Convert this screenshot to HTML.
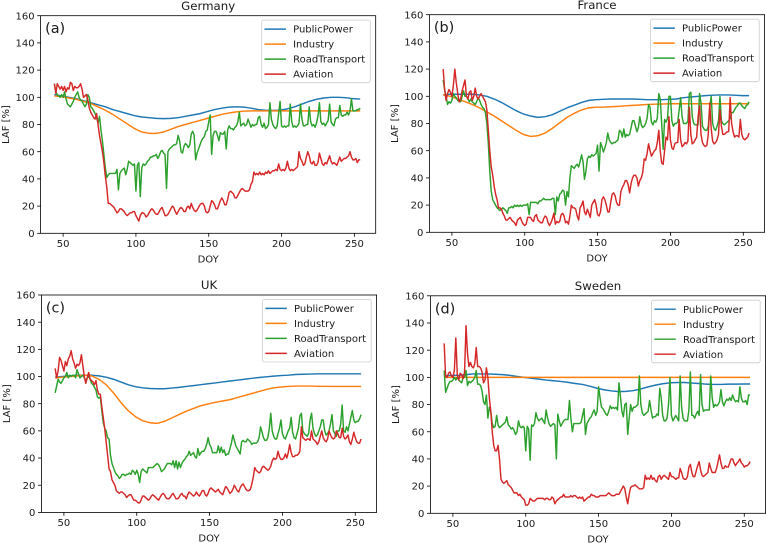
<!DOCTYPE html>
<html lang="en">
<head>
<meta charset="utf-8">
<title>LAF by sector</title>
<style>
html,body{margin:0;padding:0;background:#fff;}
body{width:766px;height:543px;overflow:hidden;}
svg{display:block;}
text{font-family:"DejaVu Sans","Liberation Sans",sans-serif;fill:#1a1a1a;}
</style>
</head>
<body>
<svg id="figure" xmlns="http://www.w3.org/2000/svg" width="766" height="543" viewBox="0 0 766 543"></svg>
<script>
const seriesNames = ["PublicPower", "Industry", "RoadTransport", "Aviation"];
const xTickLabels = [50, 100, 150, 200, 250];
const yTickLabels = [0, 20, 40, 60, 80, 100, 120, 140, 160];
const firstDailyDoy = 44;
const smoothDoy = [
44,49,54,59,64,69,74,79,84,89,
94,99,104,109,114,119,124,129,134,139,
144,149,154,159,164,169,174,179,184,189,
194,199,204,209,214,219,224,229,234,239,
244,249,254];

const germanyPublicPower = [
102,101,100,99,97.5,96,94.5,93,91,89.5,
88,86.5,85.5,85,84.5,84.3,84.5,85,86,87,
88,89.5,91,92,92.8,93,92.8,92,91,90.5,
90.3,90.5,91.5,93,95,97,98.5,99.5,100,100,
99.7,99,98.7];
const germanyIndustry = [
101,100.5,99.5,98.5,97,95.5,93,90.5,87.5,84,
80.5,77,74.5,73.5,73.5,74.5,76.5,78.5,80,81.5,
83,84.5,86,87.5,88.5,89.3,89.8,90,90,90,
90,90,90,90,90,90,90,90,90,90,
90,90,90];
const germanyRoad = [
110,104,102,101,100,102,
100,104,99,95,94,93,95,97,100,102,
104,100,98,97,95,93,95,102,100,93,
92,90,88,85,81,86,76,68,58,48,
41,43,44,44,44,44,44,47,32,44,
46,47,48,43,47,53,52,51,50,51,
31,50,52,27,48,51,50,51,53,54,
56,56,57,57,58,55,57,60,61,59,
58,33,60,62,63,64,65,65,66,72,
68,60,59,64,66,65,63,65,73,75,
72,54,59,62,65,68,70,71,75,76,
82,87,58,72,75,75,72,68,74,73,
73,75,62,76,79,77,77,76,78,79,
82,89,79,80,81,79,80,84,81,78,
80,79,80,80,85,86,80,78,81,77,
78,80,96,84,80,78,77,79,88,97,
79,78,79,78,79,79,95,82,78,79,
78,79,81,95,84,79,79,80,80,93,
82,79,80,78,81,86,96,82,80,81,
79,81,83,95,82,80,79,84,85,85,
94,87,86,87,87,89,87,90,99,90,
90,90,91,91,92];
const germanyAviation = [
110,103,110,108,106,108,
105,108,104,107,106,111,110,105,108,107,
107,108,110,106,100,101,102,98,92,89,
87,85,84,88,80,72,66,60,52,42,
34,22,22,21,20,19,17,15,16,18,
18,17,16,14,13,14,15,15,16,16,
13,11,9,13,15,15,14,12,13,15,
17,18,17,15,14,14,16,18,19,16,
13,13,14,16,18,20,19,16,14,16,
18,19,18,16,16,19,20,18,22,19,
17,16,17,19,21,22,22,20,16,15,
16,20,24,23,21,18,18,21,24,26,
24,21,21,25,30,31,30,29,26,26,
28,30,32,33,32,31,31,31,32,36,
38,45,43,44,43,45,43,44,43,45,
44,46,44,45,46,46,47,46,51,47,
46,47,46,48,53,48,46,47,46,47,
48,49,60,55,53,50,51,56,60,57,
52,51,53,50,50,52,59,55,51,50,
52,51,54,57,53,51,52,51,50,53,
56,53,54,55,55,56,57,60,56,54,
54,55,52,54,54];

const francePublicPower = [
101,101.5,101.5,101.5,101.5,101,100,98,95.5,92.5,
89.5,87,85.5,84.5,85,86.5,89,91.5,93.5,95.5,
97,97.5,97.8,98,98,98,98,97.8,97.5,97.5,
97.5,97.8,98,99,99.5,100,100.5,100.8,101,101,
100.8,100.5,100.5];
const franceIndustry = [
101,100,98,96,94,91.5,88.5,85.5,82,78.5,
75,72,70.5,71,73,76.5,80.5,84.5,87.5,90,
91.5,92,92,92.3,92.6,93,93.3,93.6,94,94.2,
94.3,94.5,94.5,94.5,94.5,94.5,94.5,94.5,94.5,94.5,
94.5,94.5,94.5];
const franceRoad = [
112,105,100,94,96,95,
97,102,100,99,97,96,96,100,104,100,
100,98,96,98,96,95,94,96,99,97,
94,92,91,88,80,65,45,30,24,22,
20,18,17,16,17,18,17,16,14,18,
18,19,18,20,19,20,19,20,19,20,
20,20,21,13,22,22,22,22,22,21,
23,23,24,25,24,24,24,24,24,25,
25,13,26,23,28,29,31,30,20,30,
26,40,49,48,47,49,50,48,52,57,
52,39,45,54,56,55,57,56,57,58,
64,45,66,63,59,62,66,73,68,66,
65,66,66,67,68,75,74,70,76,70,
72,71,72,77,82,82,78,74,77,85,
79,77,78,80,84,94,92,81,79,82,
81,84,102,98,80,61,83,81,84,100,
100,82,78,80,80,81,90,99,85,80,
80,80,82,102,103,85,80,79,79,79,
102,95,78,76,75,75,78,92,100,80,
76,75,78,82,100,82,80,79,80,81,
82,84,88,88,90,92,93,95,95,93,
92,91,93,94,96];
const franceAviation = [
120,105,97,102,105,103,
100,108,120,110,102,96,98,104,108,112,
100,98,103,104,97,100,106,100,98,100,
102,100,98,96,90,75,60,48,42,34,
28,24,18,18,17,14,12,9,9,10,
11,9,8,7,5,9,10,11,8,6,
5,6,11,11,11,9,8,12,13,9,
8,7,7,10,12,11,7,5,7,10,
14,6,8,7,8,13,14,12,7,8,
6,12,20,18,18,17,12,9,18,20,
23,15,13,17,14,11,20,22,24,20,
13,12,15,24,26,24,20,15,15,22,
28,29,27,22,20,20,30,33,35,38,
38,35,29,36,40,42,42,40,34,38,
40,44,54,53,58,65,60,56,58,60,
61,66,75,60,51,50,60,70,68,85,
68,62,61,65,66,66,83,68,63,64,
66,65,67,92,72,65,66,68,70,85,
93,72,66,64,63,64,72,95,76,67,
65,66,68,72,90,78,72,72,73,74,
74,99,80,74,70,71,71,70,83,72,
69,68,69,70,73];

const ukPublicPower = [
99.5,100,100.5,101,101,101,100.5,99.5,98,96,
94,92.5,91.7,91.2,91,91,91.5,92,92.7,93.3,
94,94.7,95.3,96,96.7,97.3,98,98.7,99.3,99.8,
100.3,100.7,101,101.5,101.7,101.8,102,102,102,102,
102,102,102];
const ukIndustry = [
99,99.5,100,100.5,101,100.5,98,94,88,81,
75,70.5,67.5,66,65.5,67,69.5,72,74.5,76.5,
78.5,79.8,81,82,83,84.5,86,87.5,89,90.5,
91.7,92.3,92.7,93,93,93,92.8,92.8,92.7,92.7,
92.7,92.7,92.7];
const ukRoad = [
88,93,98,96,95,97,
99,100,103,99,101,100,101,101,99,105,
102,99,100,101,99,97,99,100,98,95,
94,92,90,85,84,85,75,66,62,60,
55,54,42,36,33,30,28,27,25,26,
28,28,27,28,28,29,28,31,30,28,
31,28,22,30,32,31,30,29,33,33,
33,33,34,35,36,35,33,30,31,32,
34,36,36,36,35,38,33,38,32,37,
33,36,38,39,41,42,45,42,43,44,
41,40,47,42,44,45,45,47,50,55,
50,48,44,44,44,44,49,44,48,44,
46,42,43,43,47,51,57,53,49,47,
45,43,52,53,52,52,54,53,52,50,
51,51,51,52,55,63,59,55,53,53,
55,62,73,60,56,54,54,58,62,68,
58,55,54,57,60,62,70,59,55,54,
58,62,71,73,60,58,57,56,58,68,
73,62,58,56,57,60,63,68,68,60,
57,58,60,65,72,60,58,56,60,60,
65,79,60,59,63,60,65,70,75,68,
66,67,67,69,72];
const ukAviation = [
106,99,104,114,112,108,
104,111,108,113,115,119,113,110,106,109,
108,110,116,108,100,95,99,103,98,97,
96,94,97,90,87,87,78,70,62,52,
42,32,30,24,22,20,16,15,14,15,
15,14,13,11,12,13,13,11,9,9,
8,7,7,9,12,12,11,10,9,10,
12,13,12,11,10,9,11,13,14,13,
11,10,10,11,13,14,12,10,10,11,
13,14,12,12,10,13,15,14,13,12,
13,15,13,12,14,16,16,13,12,14,
17,18,17,16,15,16,17,15,14,13,
16,19,18,16,14,15,17,20,18,16,
15,18,20,21,19,17,16,16,17,21,
26,33,31,30,29,30,33,34,33,32,
31,32,34,38,40,39,40,45,41,39,
39,40,43,40,44,50,44,41,41,42,
42,43,45,63,55,54,53,54,54,53,
60,54,53,52,50,52,56,60,55,53,
52,54,60,57,55,54,55,60,58,55,
55,62,56,54,55,57,52,50,54,59,
55,52,51,51,54];

const swedenPublicPower = [
101,101.5,101.5,102,102.5,102.5,102.5,102.3,102,101.5,
100.7,100,99.3,98.7,98,97.5,97,96.3,95.5,94.8,
93.5,92,90.8,90,89.5,89.7,90.3,91.5,93,94.3,
95.3,96,96.2,96.2,95.8,95.5,95,94.8,94.8,95,
95,95.1,95.1];
const swedenIndustry = [
100,100,100,100,100,100,100,100,100,100,
100,100,100,100,100,100,100,100,100,100,
100,100,100,100,100,100,100,100,100,100,
100,100,100,100,100,100,100,100,100,100,
100,100,100];
const swedenRoad = [
105,89,92,95,97,97,
98,100,98,100,98,97,96,100,100,105,
94,97,96,97,98,100,105,95,95,94,
90,82,80,87,70,78,75,66,63,64,
72,65,63,64,65,66,67,71,65,64,
62,63,61,58,60,68,64,63,64,63,
46,64,62,39,65,64,66,74,70,68,
69,70,68,66,76,70,66,64,65,66,
65,40,73,68,64,66,68,69,69,69,
83,70,60,66,66,66,66,66,67,72,
77,58,66,68,70,71,74,76,72,75,
93,85,78,77,75,73,72,75,79,77,
78,77,78,76,96,86,75,71,80,81,
58,70,80,75,78,78,79,80,101,80,
74,72,73,74,75,83,76,70,71,71,
73,72,92,85,72,68,68,70,80,100,
72,68,70,72,70,68,101,78,70,68,
68,68,76,104,72,72,70,73,75,72,
102,80,75,76,76,76,76,101,85,78,
80,79,80,82,91,82,79,82,84,83,
85,83,87,84,82,83,82,93,85,82,
82,83,80,87,87];
const swedenAviation = [
125,101,100,103,104,101,
100,105,129,102,98,103,102,99,104,138,
118,108,111,108,107,110,122,108,108,107,
104,96,98,107,100,85,75,60,50,46,
46,50,40,25,23,22,23,24,21,20,
19,17,15,15,15,13,14,12,11,10,
6,6,7,11,10,9,9,10,11,11,
11,11,11,10,11,11,10,10,12,11,
7,9,10,11,12,12,14,12,12,12,
12,13,12,13,13,12,11,12,11,12,
9,10,11,12,12,14,13,13,12,12,
12,13,13,13,13,13,14,15,14,13,
13,13,14,14,14,16,18,20,18,12,
7,14,19,20,20,21,20,19,18,18,
18,19,28,25,26,25,28,25,26,24,
23,27,28,25,27,28,27,26,25,30,
27,27,26,25,26,26,33,30,26,25,
25,27,34,36,30,27,27,31,35,38,
32,28,27,28,29,30,37,33,30,30,
30,33,38,43,37,33,33,35,34,34,
37,40,40,37,35,37,38,40,37,36,
34,35,35,36,38];

const colors = ["#1f77b4", "#ff7f0e", "#2ca02c", "#d62728"];
const xDomain = [34.55, 264.65];
const yDomain = [0, 160];
const SVGNS = "http://www.w3.org/2000/svg";
const figure = document.getElementById("figure");

function make(tag, attrs, parent, content) {
  const node = document.createElementNS(SVGNS, tag);
  for (const key in attrs) node.setAttribute(key, attrs[key]);
  if (content !== undefined) node.textContent = content;
  parent.appendChild(node);
  return node;
}

function drawPanel(cfg) {
  const g = make("g", {}, figure);
  
  

  const sx = d => cfg.left + (d - xDomain[0]) / (xDomain[1] - xDomain[0]) * (cfg.right - cfg.left);
  const sy = v => cfg.bottom - (v - yDomain[0]) / (yDomain[1] - yDomain[0]) * (cfg.bottom - cfg.top);

  const clipId = "clip-" + cfg.slug;
  const defs = make("defs", {}, g);
  const clip = make("clipPath", { id: clipId }, defs);
  make("rect", { x: cfg.left, y: cfg.top, width: cfg.right - cfg.left, height: cfg.bottom - cfg.top }, clip);

  const smoothPoints = vals => vals.map((v, i) => sx(smoothDoy[i]).toFixed(2) + "," + sy(v).toFixed(2)).join(" ");
  const dailyPoints = vals => vals.map((v, i) => sx(firstDailyDoy + i).toFixed(2) + "," + sy(v).toFixed(2)).join(" ");
  const pointSets = [smoothPoints(cfg.publicPower), smoothPoints(cfg.industry), dailyPoints(cfg.road), dailyPoints(cfg.aviation)];

  pointSets.forEach((pts, i) => {
    const line = make("polyline", {
      points: pts, fill: "none", stroke: colors[i], "stroke-width": 1.45,
      "stroke-linejoin": "round", "clip-path": "url(#" + clipId + ")"
    }, g);
    
    
  });

  const frame = make("rect", {
    x: cfg.left, y: cfg.top, width: cfg.right - cfg.left, height: cfg.bottom - cfg.top,
    fill: "none", stroke: "#000", "stroke-width": 0.8
  }, g);
  
  

  xTickLabels.forEach(t => {
    const x = sx(t);
    const tick = make("line", { x1: x, x2: x, y1: cfg.bottom, y2: cfg.bottom + 3.4, stroke: "#000", "stroke-width": 0.8 }, g);
    
    
    const label = make("text", { x: x, y: cfg.bottom + 13.6, "text-anchor": "middle", "font-size": 10 }, g, String(t));
    
    
  });

  yTickLabels.forEach(t => {
    const y = sy(t);
    const tick = make("line", { x1: cfg.left - 3.4, x2: cfg.left, y1: y, y2: y, stroke: "#000", "stroke-width": 0.8 }, g);
    
    
    const label = make("text", { x: cfg.left - 6, y: y + 3.6, "text-anchor": "end", "font-size": 10 }, g, String(t));
    
    
  });

  const midX = (cfg.left + cfg.right) / 2;
  const midY = (cfg.top + cfg.bottom) / 2;

  const title = make("text", { x: midX, y: cfg.top - 5.8, "text-anchor": "middle", "font-size": 11.75 }, g, cfg.title);
  
  

  const xTitle = make("text", { x: midX, y: cfg.bottom + 29.3, "text-anchor": "middle", "font-size": 10 }, g, "DOY");
  
  

  const yX = cfg.left - 31.6;
  const yTitle = make("text", { x: yX, y: midY, "text-anchor": "middle", "font-size": 10, transform: "rotate(-90 " + yX + " " + midY + ")" }, g, "LAF [%]");
  
  

  const letter = make("text", { x: cfg.left + 4.5, y: cfg.top + 17.5, "font-size": 14.4 }, g, cfg.letter);
  
  

  const legend = make("g", {}, g);
  
  
  const boxRight = cfg.right - 5.4;
  const boxLeft = boxRight - 108.6;
  const boxTop = cfg.top + 4.4;
  make("rect", {
    x: boxLeft, y: boxTop, width: 108.6, height: 62.6, rx: 2, ry: 2,
    fill: "#fff", "fill-opacity": 0.8, stroke: "#ccc", "stroke-width": 0.8
  }, legend);
  seriesNames.forEach((name, i) => {
    const rowY = boxTop + 9 + i * 15;
    const entry = make("g", {}, legend);
    
    
    make("line", { x1: boxLeft + 2.8, x2: boxLeft + 24.2, y1: rowY, y2: rowY, stroke: colors[i], "stroke-width": 1.45 }, entry);
    make("text", { x: boxLeft + 31.4, y: rowY + 3.6, "font-size": 10 }, entry, name);
  });
}

drawPanel({ slug: "germany", title: "Germany", letter: "(a)", left: 40.6, right: 375.7, top: 15.7, bottom: 233.3,
  publicPower: germanyPublicPower, industry: germanyIndustry, road: germanyRoad, aviation: germanyAviation });
drawPanel({ slug: "france", title: "France", letter: "(b)", left: 429.4, right: 764.6, top: 14.7, bottom: 232.3,
  publicPower: francePublicPower, industry: franceIndustry, road: franceRoad, aviation: franceAviation });
drawPanel({ slug: "uk", title: "UK", letter: "(c)", left: 41.4, right: 376.6, top: 295, bottom: 512.4,
  publicPower: ukPublicPower, industry: ukIndustry, road: ukRoad, aviation: ukAviation });
drawPanel({ slug: "sweden", title: "Sweden", letter: "(d)", left: 430.4, right: 765.6, top: 295.8, bottom: 513.3,
  publicPower: swedenPublicPower, industry: swedenIndustry, road: swedenRoad, aviation: swedenAviation });
</script>
</body>
</html>
